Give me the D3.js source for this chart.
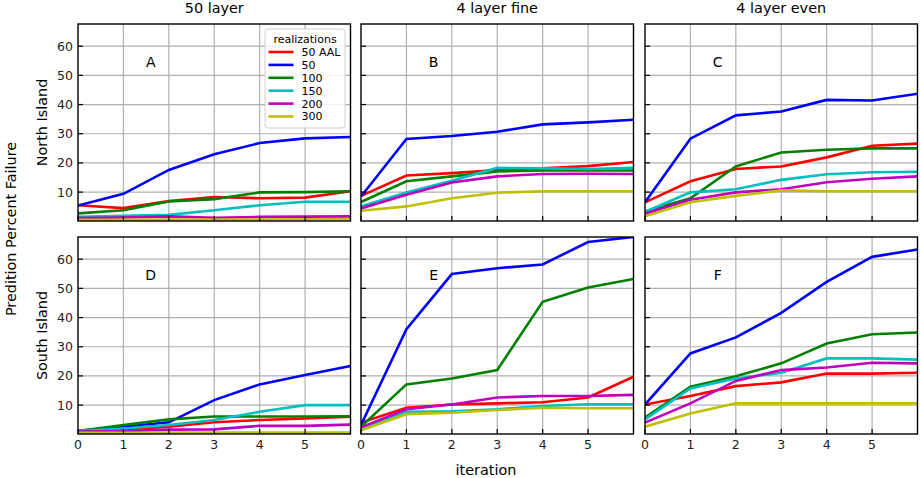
<!DOCTYPE html>
<html>
<head>
  <meta charset="utf-8">
  <script src="https://d3js.org/d3.v7.min.js"></script>
  <style>
    body { margin: 0; background: #fff; }
    text { font-family: "DejaVu Sans", sans-serif; fill: #000; }
  </style>
</head>
<body>
<script>
// iterations 0..6
var iterations = [0, 1, 2, 3, 4, 5, 6];
var seriesNames = ["50 AAL", "50", "100", "150", "200", "300"];
var seriesColors = ["#ff0000", "#0000ff", "#008000", "#00bfbf", "#bf00bf", "#bfbf00"];
var colTitles = ["50 layer", "4 layer fine", "4 layer even"];
var rowTitles = ["North Island", "South Island"];
var panelLetters = ["A", "B", "C", "D", "E", "F"];
var xTicks = [0, 1, 2, 3, 4, 5];
var yTicks = [10, 20, 30, 40, 50, 60];

// one array of series per panel, in legend order
var panelA = [
  [5.5, 4.5, 6.9, 8.3, 7.9, 8.1, 10.3],
  [5.4, 9.4, 17.6, 23.0, 26.8, 28.4, 28.9],
  [2.7, 3.8, 6.8, 7.6, 9.9, 10.0, 10.3],
  [1.5, 1.9, 2.2, 3.8, 5.5, 6.7, 6.7],
  [1.1, 1.3, 1.7, 1.2, 1.5, 1.6, 1.7],
  [0.5, 0.5, 0.6, 0.6, 0.6, 0.7, 0.7]
];
var panelB = [
  [8.7, 15.7, 16.5, 17.6, 18.2, 18.9, 20.3],
  [8.5, 28.2, 29.2, 30.7, 33.2, 33.9, 34.8],
  [6.6, 13.7, 15.4, 17.1, 17.4, 17.4, 17.4],
  [5.1, 9.9, 13.9, 18.3, 18.2, 17.9, 18.3],
  [4.4, 9.1, 13.3, 15.4, 16.2, 16.3, 16.2],
  [3.6, 5.1, 7.9, 9.8, 10.3, 10.3, 10.3]
];
var panelC = [
  [6.5, 13.7, 17.9, 18.8, 21.9, 25.9, 26.6],
  [6.5, 28.3, 36.3, 37.6, 41.6, 41.4, 43.7],
  [3.4, 7.9, 18.8, 23.6, 24.5, 25.0, 25.0],
  [3.2, 9.9, 11.0, 14.2, 16.1, 16.8, 17.0],
  [2.6, 7.4, 9.9, 11.0, 13.4, 14.6, 15.4],
  [1.7, 6.5, 8.7, 10.6, 10.3, 10.3, 10.3]
];
var panelD = [
  [1.0, 1.7, 2.6, 4.1, 4.9, 5.4, 6.0],
  [1.2, 2.6, 4.1, 11.7, 17.1, 20.3, 23.4],
  [1.1, 3.2, 5.1, 6.1, 6.1, 6.1, 6.2],
  [1.1, 2.0, 3.2, 4.9, 7.7, 10.0, 10.0],
  [0.9, 1.1, 1.6, 1.7, 2.9, 2.9, 3.3],
  [0.5, 0.5, 0.6, 0.6, 0.6, 0.6, 0.6]
];
var panelE = [
  [4.0, 9.1, 10.2, 10.6, 11.0, 12.6, 19.7],
  [3.2, 36.0, 54.9, 56.9, 58.2, 65.9, 67.6],
  [2.6, 17.1, 19.1, 22.0, 45.4, 50.3, 53.2],
  [2.0, 7.7, 7.9, 8.6, 9.7, 10.3, 10.3],
  [2.4, 8.6, 10.2, 12.6, 13.1, 13.1, 13.5],
  [1.4, 6.9, 7.4, 8.3, 9.1, 8.9, 8.9]
];
var panelF = [
  [10.2, 13.1, 16.5, 17.8, 20.8, 20.8, 21.1],
  [10.2, 27.7, 33.2, 41.6, 52.2, 60.8, 63.3],
  [5.7, 16.3, 19.9, 24.3, 31.1, 34.3, 34.9],
  [5.1, 15.7, 19.1, 21.1, 26.0, 26.0, 25.6],
  [4.0, 10.6, 18.3, 22.0, 22.9, 24.5, 24.3],
  [2.6, 7.1, 10.6, 10.6, 10.6, 10.6, 10.6]
];
var panels = [panelA, panelB, panelC, panelD, panelE, panelF];

var W = 920, H = 478;
var colLeft = [78, 361, 645], pw = 272.5;
var rowTop = [24, 237], ph = 197;

var svg = d3.select("body").append("svg")
    .attr("width", W)
    .attr("height", H);

var x = d3.scaleLinear().domain([0, 6]).range([0, pw]);
var y = d3.scaleLinear().domain([0.1, 67.6]).range([ph, 0]);

var line = d3.line()
    .x(function(d, i) { return x(iterations[i]); })
    .y(function(d) { return y(d); });

panels.forEach(function(series, p) {
  var r = Math.floor(p / 3), c = p % 3;
  var g = svg.append("g")
      .attr("transform", "translate(" + colLeft[c] + "," + rowTop[r] + ")");

  g.append("defs").append("clipPath").attr("id", "clip" + p)
    .append("rect").attr("width", pw).attr("height", ph);

  // grid
  g.selectAll(".vg").data(xTicks.slice(1)).enter().append("line")
      .attr("x1", x).attr("x2", x).attr("y1", 0).attr("y2", ph)
      .attr("stroke", "#b0b0b0").attr("stroke-width", 1.2);
  g.selectAll(".hg").data(yTicks).enter().append("line")
      .attr("y1", y).attr("y2", y).attr("x1", 0).attr("x2", pw)
      .attr("stroke", "#b0b0b0").attr("stroke-width", 1.2);

  // series
  series.forEach(function(vals, s) {
    g.append("path")
        .datum(vals)
        .attr("d", line)
        .attr("fill", "none")
        .attr("stroke", seriesColors[s])
        .attr("stroke-width", 2.6)
        .attr("clip-path", "url(#clip" + p + ")");
  });

  // inward ticks
  g.selectAll(".yt").data(yTicks).enter().append("line")
      .attr("x1", 0).attr("x2", 5).attr("y1", y).attr("y2", y)
      .attr("stroke", "#000").attr("stroke-width", 1.2);
  g.selectAll(".xt").data(xTicks).enter().append("line")
      .attr("x1", x).attr("x2", x).attr("y1", ph).attr("y2", ph - 5)
      .attr("stroke", "#000").attr("stroke-width", 1.2);

  // frame
  g.append("rect")
      .attr("width", pw).attr("height", ph)
      .attr("fill", "none").attr("stroke", "#000").attr("stroke-width", 1.4);

  // panel letter
  g.append("text")
      .attr("x", x(1.6)).attr("y", y(54.5))
      .attr("dy", "0.36em")
      .attr("text-anchor", "middle")
      .style("font-size", "14px")
      .text(panelLetters[p]);

  if (c === 0) {
    g.selectAll(".yl").data(yTicks).enter().append("text")
        .attr("x", -5).attr("y", y).attr("dy", "0.36em")
        .attr("text-anchor", "end")
        .style("font-size", "12.5px")
        .style("fill", "#222")
        .text(function(d) { return d; });
  }
  if (r === 1) {
    g.selectAll(".xl").data(xTicks).enter().append("text")
        .attr("x", x).attr("y", ph + 15)
        .attr("text-anchor", "middle")
        .style("font-size", "12.5px")
        .style("fill", "#222")
        .text(function(d) { return d; });
  }
  if (r === 0) {
    g.append("text")
        .attr("x", pw / 2).attr("y", -11)
        .attr("text-anchor", "middle")
        .style("font-size", "14.4px")
        .text(colTitles[c]);
  }
  if (c === 0) {
    g.append("text")
        .attr("transform", "translate(-31," + (ph / 2) + ") rotate(-90)")
        .attr("text-anchor", "middle")
        .style("font-size", "14.4px")
        .text(rowTitles[r]);
  }

  // legend in first panel
  if (p === 0) {
    var lg = g.append("g").attr("transform", "translate(" + (265 - 78) + "," + (29 - 24) + ")");
    lg.append("rect")
        .attr("width", 80).attr("height", 99)
        .attr("rx", 3)
        .attr("fill", "#fff").attr("fill-opacity", 0.85)
        .attr("stroke", "#d0d0d0");
    lg.append("text")
        .attr("x", 40).attr("y", 10).attr("dy", "0.36em")
        .attr("text-anchor", "middle")
        .style("font-size", "11px")
        .text("realizations");
    var ent = lg.selectAll(".ent").data(seriesNames).enter().append("g")
        .attr("transform", function(d, i) { return "translate(0," + (23 + i * 12.9) + ")"; });
    ent.append("line")
        .attr("x1", 3.5).attr("x2", 28.5)
        .attr("stroke", function(d, i) { return seriesColors[i]; })
        .attr("stroke-width", 2.6);
    ent.append("text")
        .attr("x", 36.5).attr("dy", "0.36em")
        .style("font-size", "11px")
        .text(function(d) { return d; });
  }
});

svg.append("text")
    .attr("transform", "translate(15.5,229) rotate(-90)")
    .attr("text-anchor", "middle")
    .style("font-size", "14.4px")
    .text("Predition Percent Failure");

svg.append("text")
    .attr("x", 486).attr("y", 475)
    .attr("text-anchor", "middle")
    .style("font-size", "14.4px")
    .text("iteration");
</script>
</body>
</html>
